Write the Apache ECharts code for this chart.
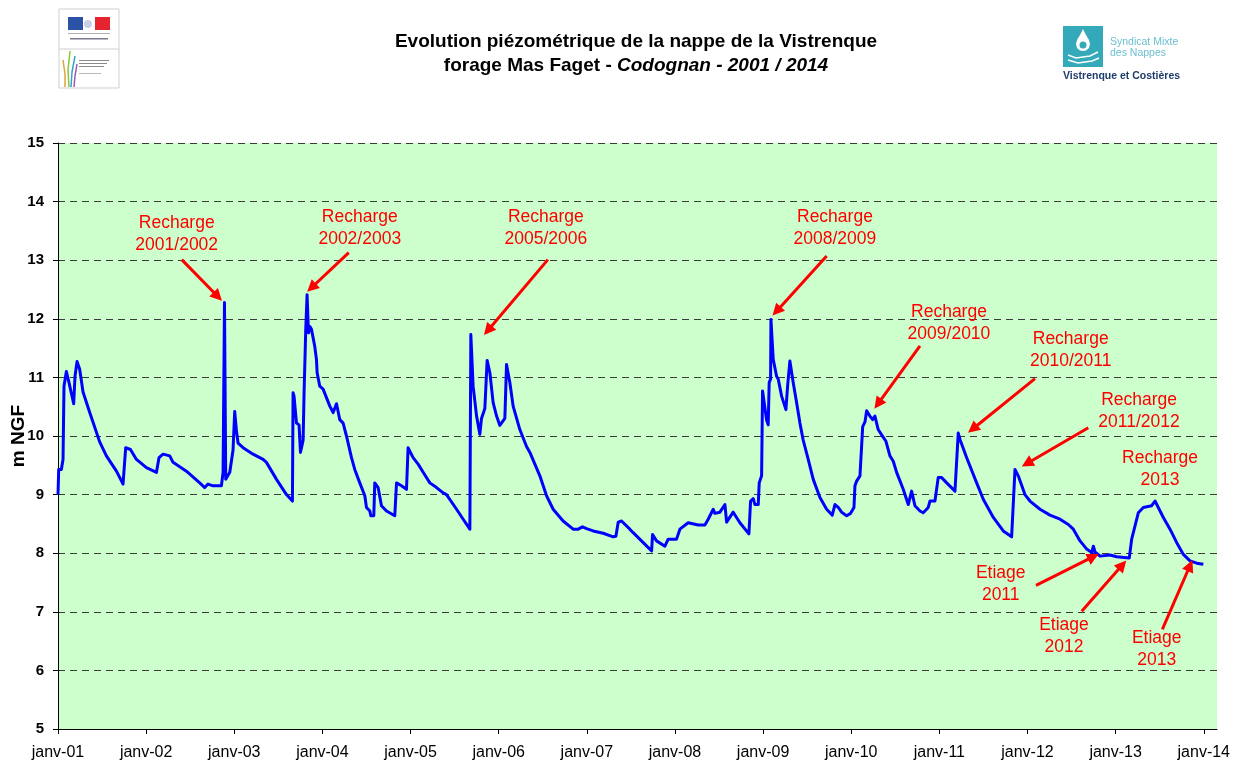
<!DOCTYPE html>
<html>
<head>
<meta charset="utf-8">
<title>Evolution piézométrique - forage Mas Faget</title>
<script src="https://cdn.jsdelivr.net/npm/echarts@6/dist/echarts.min.js"></script>
<style>
  html, body { margin: 0; padding: 0; background: #fff; }
  #chart { width: 1239px; height: 763px; }
</style>
</head>
<body>
<div id="chart"></div>
<script>
// dates en années décimales (2001.0 = 1er janvier 2001), niveaux en m NGF
const dates = [
  2001.000, 2001.008, 2001.038, 2001.057, 2001.068, 2001.095, 2001.125, 2001.178, 2001.193, 2001.216,
  2001.246, 2001.284, 2001.360, 2001.473, 2001.549, 2001.663, 2001.738, 2001.757, 2001.768, 2001.822,
  2001.890, 2002.003, 2002.117, 2002.146, 2002.192, 2002.268, 2002.305, 2002.457, 2002.608, 2002.665,
  2002.702, 2002.759, 2002.854, 2002.873, 2002.889, 2002.903, 2002.949, 2002.986, 2003.005, 2003.025,
  2003.043, 2003.100, 2003.213, 2003.327, 2003.365, 2003.479, 2003.592, 2003.660, 2003.667, 2003.678,
  2003.706, 2003.735, 2003.751, 2003.781, 2003.792, 2003.811, 2003.826, 2003.842, 2003.857, 2003.876,
  2003.913, 2003.933, 2003.940, 2003.970, 2004.008, 2004.084, 2004.122, 2004.160, 2004.197, 2004.235,
  2004.273, 2004.330, 2004.367, 2004.424, 2004.481, 2004.500, 2004.538, 2004.549, 2004.583, 2004.594,
  2004.632, 2004.670, 2004.727, 2004.821, 2004.841, 2004.897, 2004.954, 2004.972, 2005.029, 2005.086,
  2005.143, 2005.219, 2005.295, 2005.370, 2005.408, 2005.522, 2005.597, 2005.673, 2005.684, 2005.710,
  2005.749, 2005.786, 2005.805, 2005.843, 2005.869, 2005.900, 2005.937, 2005.976, 2006.013, 2006.070,
  2006.089, 2006.127, 2006.164, 2006.240, 2006.316, 2006.354, 2006.467, 2006.543, 2006.618, 2006.731,
  2006.845, 2006.902, 2006.951, 2006.997, 2007.072, 2007.186, 2007.299, 2007.330, 2007.356, 2007.394,
  2007.488, 2007.526, 2007.640, 2007.735, 2007.746, 2007.791, 2007.886, 2007.923, 2008.018, 2008.056,
  2008.150, 2008.264, 2008.340, 2008.377, 2008.434, 2008.453, 2008.510, 2008.567, 2008.586, 2008.661,
  2008.737, 2008.839, 2008.858, 2008.888, 2008.907, 2008.945, 2008.956, 2008.983, 2008.994, 2009.040,
  2009.058, 2009.069, 2009.085, 2009.089, 2009.115, 2009.153, 2009.172, 2009.210, 2009.259, 2009.278,
  2009.304, 2009.323, 2009.342, 2009.380, 2009.418, 2009.455, 2009.512, 2009.569, 2009.645, 2009.721,
  2009.785, 2009.815, 2009.853, 2009.891, 2009.948, 2009.993, 2010.031, 2010.042, 2010.061, 2010.099,
  2010.130, 2010.156, 2010.175, 2010.212, 2010.243, 2010.269, 2010.306, 2010.345, 2010.394, 2010.439,
  2010.477, 2010.515, 2010.590, 2010.647, 2010.685, 2010.723, 2010.780, 2010.817, 2010.874, 2010.893,
  2010.950, 2010.987, 2011.026, 2011.083, 2011.177, 2011.196, 2011.214, 2011.234, 2011.310, 2011.423,
  2011.498, 2011.612, 2011.725, 2011.820, 2011.858, 2011.895, 2011.971, 2012.028, 2012.142, 2012.255,
  2012.369, 2012.463, 2012.520, 2012.596, 2012.672, 2012.729, 2012.747, 2012.766, 2012.823, 2012.936,
  2013.012, 2013.155, 2013.182, 2013.257, 2013.314, 2013.409, 2013.447, 2013.484, 2013.541, 2013.617,
  2013.693, 2013.768, 2013.844, 2013.920, 2013.995
];
const levels = [
  9.00, 9.43, 9.43, 9.60, 10.85, 11.10, 10.91, 10.55, 11.02, 11.27,
  11.14, 10.75, 10.40, 9.90, 9.66, 9.40, 9.18, 9.15, 9.80, 9.77,
  9.60, 9.46, 9.38, 9.63, 9.69, 9.66, 9.55, 9.40, 9.20, 9.12,
  9.18, 9.15, 9.15, 9.38, 12.28, 9.26, 9.38, 9.76, 10.42, 10.08,
  9.88, 9.80, 9.69, 9.60, 9.55, 9.26, 9.00, 8.89, 10.74, 10.68,
  10.22, 10.19, 9.72, 9.93, 10.74, 11.82, 12.41, 11.76, 11.87, 11.82,
  11.53, 11.30, 11.08, 10.85, 10.80, 10.51, 10.40, 10.55, 10.28, 10.22,
  10.00, 9.63, 9.43, 9.20, 8.98, 8.78, 8.72, 8.64, 8.64, 9.20,
  9.12, 8.81, 8.72, 8.64, 9.20, 9.15, 9.09, 9.80, 9.63, 9.52,
  9.38, 9.20, 9.12, 9.03, 9.00, 8.75, 8.58, 8.41, 11.73, 10.85,
  10.34, 10.03, 10.30, 10.47, 11.29, 11.08, 10.57, 10.34, 10.18, 10.30,
  11.22, 10.91, 10.51, 10.11, 9.82, 9.72, 9.32, 8.98, 8.75, 8.55,
  8.41, 8.41, 8.45, 8.42, 8.38, 8.34, 8.28, 8.29, 8.53, 8.55,
  8.41, 8.35, 8.18, 8.04, 8.32, 8.21, 8.12, 8.24, 8.24, 8.41,
  8.52, 8.48, 8.48, 8.58, 8.75, 8.68, 8.70, 8.83, 8.53, 8.70,
  8.52, 8.33, 8.89, 8.93, 8.83, 8.83, 9.20, 9.32, 10.77, 10.27,
  10.19, 10.91, 10.97, 11.99, 11.31, 11.02, 10.97, 10.68, 10.45, 10.85,
  11.28, 11.25, 10.91, 10.57, 10.22, 9.93, 9.60, 9.26, 8.95, 8.75,
  8.65, 8.83, 8.78, 8.70, 8.64, 8.68, 8.78, 9.15, 9.23, 9.32,
  10.16, 10.24, 10.43, 10.34, 10.28, 10.34, 10.11, 10.02, 9.91, 9.66,
  9.57, 9.38, 9.09, 8.83, 9.06, 8.81, 8.72, 8.69, 8.78, 8.89,
  8.89, 9.29, 9.29, 9.20, 9.06, 9.06, 10.05, 9.94, 9.63, 9.20,
  8.92, 8.61, 8.38, 8.28, 9.43, 9.32, 9.00, 8.89, 8.75, 8.65,
  8.58, 8.49, 8.41, 8.21, 8.07, 8.01, 8.12, 8.02, 7.95, 7.97,
  7.94, 7.92, 8.24, 8.69, 8.78, 8.81, 8.89, 8.78, 8.61, 8.41,
  8.18, 7.98, 7.87, 7.83, 7.81
];
const yearTicks = [2001, 2002, 2003, 2004, 2005, 2006, 2007, 2008, 2009, 2010, 2011, 2012, 2013, 2014];

// annotations (texte, position du texte, départ et pointe de la flèche)
const noteTexts = [
  'Recharge\n2001/2002', 'Recharge\n2002/2003', 'Recharge\n2005/2006', 'Recharge\n2008/2009',
  'Recharge\n2009/2010', 'Recharge\n2010/2011', 'Recharge\n2011/2012', 'Recharge\n2013',
  'Etiage\n2011', 'Etiage\n2012', 'Etiage\n2013'
];
const noteAt = [
  [2002.347, 13.45], [2004.424, 13.55], [2006.535, 13.55], [2009.815, 13.55],
  [2011.109, 11.93], [2012.490, 11.46], [2013.266, 10.43], [2013.504, 9.44],
  [2011.696, 7.48], [2012.414, 6.58], [2013.466, 6.36]
];
const arrowFrom = [
  [2002.404, 13.01], [2004.299, 13.13], [2006.558, 13.01], [2009.721, 13.07],
  [2010.780, 11.54], [2012.085, 10.98], [2012.690, 10.14],
  [2012.096, 7.45], [2012.615, 7.01], [2013.530, 6.70]
];
const arrowTo = [
  [2002.813, 12.38], [2003.876, 12.53], [2005.877, 11.80], [2009.153, 12.13],
  [2010.303, 10.55], [2011.378, 10.12], [2011.994, 9.53],
  [2012.747, 7.94], [2013.076, 7.80], [2013.844, 7.79]
];

const FONT = '"Liberation Sans", Arial, sans-serif';
const RED = '#ff0000';

const chart = echarts.init(document.getElementById('chart'));

const option = {
  animation: false,
  backgroundColor: '#ffffff',
  textStyle: { fontFamily: FONT },
  title: {
    left: 631,
    top: 25,
    textAlign: 'center',
    text: '{b|Evolution piézométrique de la nappe de la Vistrenque}\n{b|forage Mas Faget - }{i|Codognan - 2001 / 2014}',
    textStyle: {
      rich: {
        b: { fontFamily: FONT, fontSize: 19, fontWeight: 'bold', color: '#000', lineHeight: 24 },
        i: { fontFamily: FONT, fontSize: 19, fontWeight: 'bold', fontStyle: 'italic', color: '#000', lineHeight: 24 }
      }
    }
  },
  grid: {
    left: 58,
    right: 22,
    top: 143,
    bottom: 34,
    outerBoundsMode: 'none',
    containLabel: false,
    show: true,
    backgroundColor: '#ccffcc',
    borderWidth: 0
  },
  xAxis: {
    type: 'value',
    min: 2001,
    max: 2014.15,
    axisLine: { show: true, lineStyle: { color: '#000', width: 1 } },
    axisTick: { show: true, length: 5, customValues: yearTicks, lineStyle: { color: '#000' } },
    axisLabel: {
      customValues: yearTicks,
      margin: 16,
      color: '#000',
      fontFamily: FONT,
      fontSize: 16,
      formatter: v => 'janv-' + String(Math.round(v)).slice(2)
    },
    splitLine: { show: false }
  },
  yAxis: {
    type: 'value',
    min: 5,
    max: 15,
    interval: 1,
    name: 'm NGF',
    nameLocation: 'middle',
    nameGap: 30,
    nameRotate: 90,
    nameMoveOverlap: false,
    nameTextStyle: { fontFamily: FONT, fontSize: 19, fontWeight: 'bold', color: '#000' },
    axisLine: { show: true, lineStyle: { color: '#000', width: 1 } },
    axisTick: { show: true, length: 5, lineStyle: { color: '#000' } },
    axisLabel: { margin: 14, color: '#000', fontFamily: FONT, fontSize: 15, fontWeight: 'bold' },
    splitLine: { show: true, lineStyle: { color: '#3a3a3a', width: 1, type: [7, 5] } }
  },
  series: [{
    name: 'Mas Faget',
    type: 'line',
    data: dates.map((d, i) => [d, levels[i]]),
    showSymbol: false,
    symbol: 'none',
    lineStyle: { color: '#0000ff', width: 3, join: 'round' },
    itemStyle: { color: '#0000ff' },
    silent: true,
    z: 3,
    markLine: {
      silent: true,
      symbol: ['none', 'triangle'],
      symbolSize: 12,
      label: { show: false },
      lineStyle: { color: RED, width: 3, type: 'solid' },
      itemStyle: { color: RED },
      data: arrowFrom.map((p, i) => [{ coord: p }, { coord: arrowTo[i] }])
    },
    markPoint: {
      silent: true,
      symbol: 'circle',
      symbolSize: 0,
      label: {
        show: true,
        position: 'inside',
        color: RED,
        fontFamily: FONT,
        fontSize: 17.5,
        lineHeight: 22,
        align: 'center',
        formatter: p => p.name
      },
      data: noteTexts.map((t, i) => ({ name: t, coord: noteAt[i] }))
    }
  }],
  graphic: [
    // logo préfecture / DIREN (à gauche)
    { type: 'rect', shape: { x: 59, y: 9, width: 60, height: 79 }, style: { fill: '#fff', stroke: '#cfcfcf', lineWidth: 1 } },
    { type: 'rect', shape: { x: 68, y: 17, width: 15, height: 13 }, style: { fill: '#2c52a8' } },
    { type: 'rect', shape: { x: 95, y: 17, width: 15, height: 13 }, style: { fill: '#e5242f' } },
    { type: 'circle', shape: { cx: 88, cy: 24, r: 4 }, style: { fill: '#c7d1e6' } },
    { type: 'rect', shape: { x: 68, y: 33, width: 42, height: 1 }, style: { fill: '#b0b0b0' } },
    { type: 'rect', shape: { x: 70, y: 38, width: 38, height: 1.5 }, style: { fill: '#7a7a90' } },
    { type: 'line', shape: { x1: 59, y1: 49, x2: 119, y2: 49 }, style: { stroke: '#d0d0d0', lineWidth: 1 } },
    { type: 'polyline', shape: { points: [[63, 60], [65, 74], [65, 87]] }, style: { stroke: '#e2a33a', lineWidth: 1.5, fill: null } },
    { type: 'polyline', shape: { points: [[70, 51], [68, 70], [69, 87]] }, style: { stroke: '#8cc63f', lineWidth: 1.5, fill: null } },
    { type: 'polyline', shape: { points: [[75, 56], [72, 72], [71, 87]] }, style: { stroke: '#2aa6c8', lineWidth: 1.5, fill: null } },
    { type: 'polyline', shape: { points: [[77, 64], [75, 76], [74, 87]] }, style: { stroke: '#9b59b6', lineWidth: 1.5, fill: null } },
    { type: 'rect', shape: { x: 79, y: 60, width: 30, height: 1 }, style: { fill: '#8a8a8a' } },
    { type: 'rect', shape: { x: 79, y: 63, width: 28, height: 1 }, style: { fill: '#8a8a8a' } },
    { type: 'rect', shape: { x: 79, y: 66, width: 25, height: 1 }, style: { fill: '#8a8a8a' } },
    { type: 'rect', shape: { x: 79, y: 73, width: 22, height: 1 }, style: { fill: '#b8b8b8' } },
    // logo Syndicat Mixte (à droite)
    { type: 'rect', shape: { x: 1063, y: 26, width: 40, height: 41 }, style: { fill: '#33a9b9' } },
    { type: 'polygon', shape: { points: [[1083, 29], [1080, 35], [1077, 40], [1076, 44], [1077, 48], [1080, 50.5], [1083, 51], [1086, 50.5], [1089, 48], [1090, 44], [1089, 40], [1086, 35]] }, style: { fill: '#ffffff' } },
    { type: 'circle', shape: { cx: 1083, cy: 45, r: 3.5 }, style: { fill: '#33a9b9' } },
    { type: 'polyline', shape: { points: [[1068, 55], [1076, 58], [1090, 56], [1098, 52]] }, style: { stroke: '#fff', lineWidth: 1.5, fill: null } },
    { type: 'polyline', shape: { points: [[1068, 60], [1078, 63], [1092, 61], [1099, 58]] }, style: { stroke: '#fff', lineWidth: 1.5, fill: null } },
    { type: 'text', x: 1110, y: 42, style: { text: 'Syndicat Mixte', fill: '#6cc0cf', font: '10.5px ' + FONT, textVerticalAlign: 'middle' } },
    { type: 'text', x: 1110, y: 53, style: { text: 'des Nappes', fill: '#6cc0cf', font: '10.5px ' + FONT, textVerticalAlign: 'middle' } },
    { type: 'text', x: 1063, y: 76, style: { text: 'Vistrenque et Costières', fill: '#1d3c6a', font: 'bold 10.5px ' + FONT, textVerticalAlign: 'middle' } }
  ]
};

chart.setOption(option);
</script>
</body>
</html>
